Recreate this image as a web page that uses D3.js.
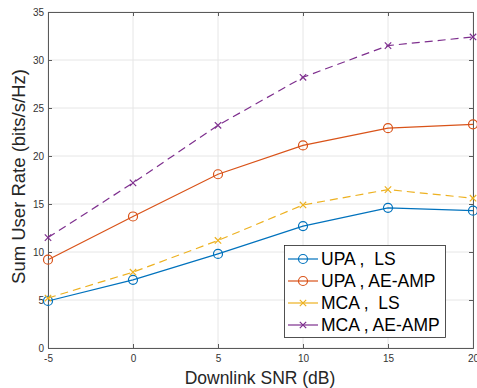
<!DOCTYPE html>
<html>
<head>
<meta charset="utf-8">
<script src="https://cdn.jsdelivr.net/npm/d3@7"></script>
<style>
  body { margin: 0; background: #fff; }
  text { font-family: Helvetica, Arial, "Liberation Sans", sans-serif; white-space: pre; }
</style>
</head>
<body>
<div id="chart"></div>
<script>
const snr = [-5, 0, 5, 10, 15, 20];
const upaLS = [4.9, 7.1, 9.8, 12.7, 14.6, 14.3];
const upaAMP = [9.2, 13.7, 18.1, 21.1, 22.9, 23.3];
const mcaLS = [5.2, 7.9, 11.2, 14.9, 16.5, 15.6];
const mcaAMP = [11.5, 17.2, 23.2, 28.2, 31.5, 32.4];
const yTicks = [0, 5, 10, 15, 20, 25, 30, 35];
const seriesNames = ["UPA ,  LS", "UPA , AE-AMP", "MCA ,  LS", "MCA , AE-AMP"];

const W = 477, H = 388;
const X0 = 48, X1 = 473, Y0 = 348, Y1 = 12;

const series = [
  { name: seriesNames[0], vals: upaLS, color: "#0072BD", dash: null, mark: "o" },
  { name: seriesNames[1], vals: upaAMP, color: "#D95319", dash: null, mark: "o" },
  { name: seriesNames[2], vals: mcaLS, color: "#EDB120", dash: "8,5", mark: "x" },
  { name: seriesNames[3], vals: mcaAMP, color: "#7E2F8E", dash: "8,5", mark: "x" }
];

let svg = d3.select("#chart").append("svg")
  .attr("width", W).attr("height", H);

let x = d3.scaleLinear().domain([-5, 20]).range([X0, X1]);
let y = d3.scaleLinear().domain([0, 35]).range([Y0, Y1]);

// grid
svg.append("g").selectAll("line").data(snr).join("line")
  .attr("x1", d => x(d)).attr("x2", d => x(d))
  .attr("y1", Y0).attr("y2", Y1)
  .attr("stroke", "#e6e6e6").attr("stroke-width", 1);
svg.append("g").selectAll("line").data(yTicks).join("line")
  .attr("x1", X0).attr("x2", X1)
  .attr("y1", d => y(d)).attr("y2", d => y(d))
  .attr("stroke", "#e6e6e6").attr("stroke-width", 1);

// axes
let fmt = d => String(d);
let xAxis = d3.axisBottom(x).tickValues(snr).tickSize(-4).tickPadding(7).tickFormat(fmt);
let yAxis = d3.axisLeft(y).tickValues(yTicks).tickSize(-4).tickPadding(4).tickFormat(fmt);
let xTop = d3.axisTop(x).tickValues(snr).tickSize(-4).tickFormat("");
let yRight = d3.axisRight(y).tickValues(yTicks).tickSize(-4).tickFormat("");

function styleAxis(g) {
  g.select(".domain").attr("stroke", "#5a5a5a");
  g.selectAll(".tick line").attr("stroke", "#5a5a5a");
  g.selectAll(".tick text").attr("fill", "#333").style("font-size", "10px");
}

svg.append("g").attr("transform", `translate(0,${Y0})`).call(xAxis).call(styleAxis);
svg.append("g").attr("transform", `translate(${X0},0)`).call(yAxis).call(styleAxis);
svg.append("g").attr("transform", `translate(0,${Y1})`).call(xTop).call(styleAxis);
svg.append("g").attr("transform", `translate(${X1},0)`).call(yRight).call(styleAxis);

// labels
svg.append("text")
  .attr("x", 260).attr("y", 384)
  .attr("text-anchor", "middle")
  .attr("fill", "#262626").style("font-size", "17.5px")
  .text("Downlink SNR (dB)");

svg.append("text")
  .attr("transform", `translate(25,176.5) rotate(-90)`)
  .attr("text-anchor", "middle")
  .attr("fill", "#262626").style("font-size", "18.5px")
  .text("Sum User Rate (bits/s/Hz)");

// lines
let line = d3.line().x((d, i) => x(snr[i])).y(d => y(d));

function drawMark(g, s, cx, cy) {
  if (s.mark === "o") {
    g.append("circle").attr("cx", cx).attr("cy", cy).attr("r", 4.5)
      .attr("fill", "none").attr("stroke", s.color).attr("stroke-width", 1.2);
  } else {
    let r = 3.2;
    g.append("path")
      .attr("d", `M${cx - r},${cy - r}L${cx + r},${cy + r}M${cx - r},${cy + r}L${cx + r},${cy - r}`)
      .attr("stroke", s.color).attr("stroke-width", 1.2);
  }
}

series.forEach(s => {
  let g = svg.append("g");
  g.append("path")
    .attr("d", line(s.vals))
    .attr("fill", "none")
    .attr("stroke", s.color)
    .attr("stroke-width", 1.2)
    .attr("stroke-dasharray", s.dash);
  s.vals.forEach((v, i) => drawMark(g, s, x(snr[i]), y(v)));
});

// legend
let lg = svg.append("g");
lg.append("rect")
  .attr("x", 284.5).attr("y", 245.5).attr("width", 161).attr("height", 92)
  .attr("fill", "#fff").attr("stroke", "#262626").attr("stroke-width", 0.8);
series.forEach((s, i) => {
  let ly = 259 + i * 22;
  lg.append("line")
    .attr("x1", 288).attr("x2", 318).attr("y1", ly).attr("y2", ly)
    .attr("stroke", s.color).attr("stroke-width", 1.2);
  drawMark(lg, s, 303, ly);
  lg.append("text")
    .attr("x", 321).attr("y", ly + 6)
    .attr("fill", "#000").style("font-size", "17.5px")
    .text(s.name);
});
</script>
</body>
</html>
